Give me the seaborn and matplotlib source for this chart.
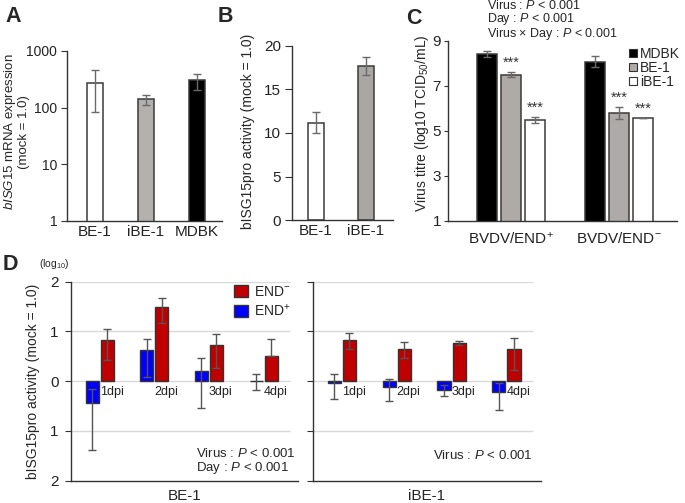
import matplotlib
matplotlib.use("Agg")
import numpy as np
import pandas as pd
import matplotlib.pyplot as plt
import seaborn as sns
from matplotlib.lines import Line2D
from matplotlib.patches import Patch

# ---- data ----
# A: bISG15 mRNA expression (mock = 1.0), mean and SD
a_cells = ["BE-1", "iBE-1", "MDBK"]
a_mean = [273, 140, 302]
a_sd = [190, 30, 97]

# B: bISG15pro activity
b_cells = ["BE-1", "iBE-1"]
b_mean = [11.2, 17.7]
b_sd = [1.2, 1.0]

# C: virus titre (log10 TCID50/mL)
c_virus = ["BVDV/END$^{+}$", "BVDV/END$^{-}$"]
c_cells = ["MDBK", "BE-1", "iBE-1"]
c_mdbk = [8.40, 8.07]
c_be1 = [7.49, 5.80]
c_ibe1 = [5.47, 5.56]
c_mdbk_sd = [0.14, 0.25]
c_be1_sd = [0.11, 0.26]
c_ibe1_sd = [0.13, 0.0]
c_stars = {"MDBK": ["", ""], "BE-1": ["***", "***"], "iBE-1": ["***", "***"]}

# D: bISG15pro activity (log10), END+ / END- per day, with error limits
d_days = ["1dpi", "2dpi", "3dpi", "4dpi"]
be1_pos = [-0.43, 0.63, 0.21, 0.01]
be1_pos_hi = [-0.15, 0.84, 0.47, 0.15]
be1_pos_lo = [-1.39, 0.09, -0.54, -0.17]
be1_neg = [0.83, 1.49, 0.73, 0.50]
be1_neg_hi = [1.04, 1.68, 0.95, 0.84]
be1_neg_lo = [0.42, 1.16, 0.26, 0.50]
ibe1_pos = [-0.03, -0.11, -0.17, -0.21]
ibe1_pos_hi = [0.15, 0.05, -0.07, -0.03]
ibe1_pos_lo = [-0.36, -0.40, -0.29, -0.58]
ibe1_neg = [0.83, 0.64, 0.76, 0.64]
ibe1_neg_hi = [0.97, 0.78, 0.81, 0.86]
ibe1_neg_lo = [0.64, 0.47, 0.72, 0.22]

# ---- style ----
sns.set_style("ticks")
plt.rcParams["font.family"] = ["Liberation Sans", "DejaVu Sans"]
plt.rcParams["mathtext.fontset"] = "custom"
plt.rcParams["mathtext.rm"] = "Liberation Sans"
plt.rcParams["mathtext.it"] = "Liberation Sans:italic"
plt.rcParams["mathtext.bf"] = "Liberation Sans:bold"
plt.rcParams["axes.edgecolor"] = "#333333"
plt.rcParams["axes.linewidth"] = 1.0
plt.rcParams["xtick.color"] = "#333333"
plt.rcParams["ytick.color"] = "#333333"
plt.rcParams["xtick.labelcolor"] = "#222222"
plt.rcParams["ytick.labelcolor"] = "#222222"

EDGE = "#3a3a3a"
ERR = "#6a6a6a"
GRAY = "#b3b0ae"
TICK_FS = 11
W, H = 685, 503


def px_axes(fig, left, right, top, bottom):
    return fig.add_axes([left / W, 1 - bottom / H, (right - left) / W, (bottom - top) / H])


def fig_text(fig, x, y, s, **kw):
    fig.text(x / W, 1 - y / H, s, **kw)


fig = plt.figure(figsize=(6.85, 5.03), dpi=100)

# ---------------- A ----------------
axA = px_axes(fig, 67, 222, 51, 221)
dfA = pd.DataFrame({"cell": a_cells, "val": a_mean})
sns.barplot(data=dfA, x="cell", y="val", hue="cell", palette=["white", GRAY, "black"],
            saturation=1, width=0.31, edgecolor=EDGE, linewidth=1.1, legend=False, ax=axA)
axA.errorbar(range(len(a_cells)), a_mean, yerr=a_sd, fmt="none", ecolor=ERR,
             elinewidth=1, capsize=3.2, capthick=1, zorder=5)
axA.set_yscale("log")
axA.set_ylim(1, 1000)
axA.set_yticks([1, 10, 100, 1000])
axA.set_yticklabels(["1", "10", "100", "1000"])
axA.minorticks_off()
axA.set_xlim(-0.55, 2.49)
axA.set_xlabel("")
axA.set_ylabel("")
axA.tick_params(axis="y", labelsize=10, length=4, pad=3)
axA.tick_params(axis="x", labelsize=TICK_FS, length=0, pad=3)
sns.despine(ax=axA)
fig_text(fig, 16, 132, "$\\mathit{bISG15}$ mRNA expression\n(mock = 1.0)", rotation=90,
         ha="center", va="center", fontsize=9.5, linespacing=1.0)

# ---------------- B ----------------
axB = px_axes(fig, 292, 393, 45.7, 220.3)
dfB = pd.DataFrame({"cell": b_cells, "val": b_mean})
sns.barplot(data=dfB, x="cell", y="val", hue="cell", palette=["white", "#a9a6a4"],
            saturation=1, width=0.32, edgecolor=EDGE, linewidth=1.1, legend=False, ax=axB)
axB.errorbar(range(len(b_cells)), b_mean, yerr=b_sd, fmt="none", ecolor=ERR,
             elinewidth=1, capsize=3.2, capthick=1, zorder=5)
axB.set_ylim(0, 20)
axB.set_yticks([0, 5, 10, 15, 20])
axB.set_xlim(-0.48, 1.54)
axB.set_xlabel("")
axB.set_ylabel("")
axB.tick_params(axis="y", labelsize=TICK_FS, length=5, pad=3)
axB.tick_params(axis="x", labelsize=TICK_FS, length=0, pad=3)
sns.despine(ax=axB)
fig_text(fig, 248, 131, "bISG15pro activity (mock = 1.0)", rotation=90,
         ha="center", va="center", fontsize=10)

# ---------------- C ----------------
axC = px_axes(fig, 448, 677, 40.7, 221)
c_vals = {"MDBK": c_mdbk, "BE-1": c_be1, "iBE-1": c_ibe1}
c_sds = {"MDBK": c_mdbk_sd, "BE-1": c_be1_sd, "iBE-1": c_ibe1_sd}
c_cols = {"MDBK": "black", "BE-1": "#aeaaa8", "iBE-1": "white"}
dfC = pd.DataFrame([{"virus": v, "cell": c, "val": c_vals[c][i]}
                    for c in c_cells for i, v in enumerate(c_virus)])
sns.barplot(data=dfC, x="virus", y="val", hue="cell", hue_order=c_cells, order=c_virus,
            palette=c_cols, saturation=1, width=0.667, gap=0.167, edgecolor=EDGE,
            linewidth=1.1, legend=False, ax=axC)
for cont, cell in zip(axC.containers, c_cells):
    for i, bar in enumerate(cont):
        xc = bar.get_x() + bar.get_width() / 2
        v = c_vals[cell][i]
        sd = c_sds[cell][i]
        axC.errorbar(xc, v, yerr=sd, fmt="none", ecolor=ERR, elinewidth=1,
                     capsize=3.2, capthick=1, zorder=5)
        if c_stars[cell][i]:
            axC.text(xc, v + sd + 0.42, c_stars[cell][i], ha="center", va="center",
                     fontsize=10.5, color="#333333")
axC.set_ylim(1, 9)
axC.set_yticks([1, 3, 5, 7, 9])
axC.set_xlim(-0.583, 1.537)
axC.set_xlabel("")
axC.set_ylabel("")
axC.tick_params(axis="y", labelsize=TICK_FS, length=3, pad=2)
axC.tick_params(axis="x", labelsize=TICK_FS, length=0, pad=7)
sns.despine(ax=axC)
handlesC = [Line2D([], [], marker="s", linestyle="none", markersize=6,
                   markerfacecolor=c_cols[c], markeredgecolor="#333333",
                   markeredgewidth=0.8, label=c) for c in c_cells]
axC.legend(handles=handlesC, loc="upper left", bbox_to_anchor=(0.79, 0.965),
           frameon=False, fontsize=10, handlelength=0.6, handletextpad=0.2,
           labelspacing=0.0, borderpad=0, borderaxespad=0)
fig_text(fig, 422, 123, "Virus titre (log10 TCID$_{50}$/mL)", rotation=90,
         ha="center", va="center", fontsize=10)
fig_text(fig, 487, -1, "Virus : $\\mathit{P}$ < 0.001\nDay : $\\mathit{P}$ < 0.001\n"
         "Virus × Day : $\\mathit{P}$ < 0.001", ha="left", va="top", fontsize=9,
         linespacing=0.92)

# ---------------- D ----------------
d_sets = [
    ("BE-1", (71, 298), be1_pos, be1_pos_hi, be1_pos_lo, be1_neg, be1_neg_hi, be1_neg_lo),
    ("iBE-1", (313, 541), ibe1_pos, ibe1_pos_hi, ibe1_pos_lo, ibe1_neg, ibe1_neg_hi, ibe1_neg_lo),
]
d_cols = {"END+": "#0000ff", "END-": "#c00000"}
for k, (name, (l, r), pv, phi, plo, nv, nhi, nlo) in enumerate(d_sets):
    ax = px_axes(fig, l, r, 281.7, 480.7)
    for yv in [2, 1, 0, -1]:
        ax.hlines(yv, -0.53, 3.49, color="#d9d9d9", linewidth=1, zorder=0)
    dfD = pd.DataFrame({"day": d_days * 2, "virus": ["END+"] * 4 + ["END-"] * 4,
                        "val": pv + nv})
    sns.barplot(data=dfD, x="day", y="val", hue="virus", hue_order=["END+", "END-"],
                palette=d_cols, saturation=1, width=0.55, gap=0.13, edgecolor="#333333",
                linewidth=1, legend=False, ax=ax, zorder=2)
    lims = {"END+": (pv, phi, plo), "END-": (nv, nhi, nlo)}
    for cont, vir in zip(ax.containers, ["END+", "END-"]):
        vals, his, los = lims[vir]
        for i, bar in enumerate(cont):
            xc = bar.get_x() + bar.get_width() / 2
            ax.errorbar(xc, vals[i], yerr=[[vals[i] - los[i]], [his[i] - vals[i]]],
                        fmt="none", ecolor="#555555", elinewidth=1, capsize=3.2,
                        capthick=1, zorder=5)
    for i, bar in enumerate(ax.containers[1]):
        ax.text(bar.get_x() - 0.02, -0.21, d_days[i], ha="left", va="center",
                fontsize=9, color="#222222")
    ax.set_ylim(-2, 2)
    ax.set_xlim(-0.525, 3.63)
    ax.set_yticks([-2, -1, 0, 1, 2])
    ax.set_xticks([])
    ax.set_ylabel("")
    ax.set_xlabel(name, fontsize=TICK_FS, labelpad=6)
    ax.tick_params(axis="y", labelsize=TICK_FS, length=4, pad=5)
    sns.despine(ax=ax)
    if k == 0:
        ax.set_yticklabels(["2", "1", "0", "1", "2"])
        ax.legend(handles=[Patch(facecolor=d_cols["END-"], edgecolor="#333333", label="END$^{-}$"),
                           Patch(facecolor=d_cols["END+"], edgecolor="#333333", label="END$^{+}$")],
                  loc="upper left", bbox_to_anchor=(0.72, 0.985), frameon=False,
                  fontsize=10, handlelength=1.0, handleheight=1.0, handletextpad=0.4,
                  labelspacing=0.3, borderpad=0, borderaxespad=0)
        ax.text(0.99, 0.094, "Virus : $\\mathit{P}$ < 0.001\nDay : $\\mathit{P}$ < 0.001",
                transform=ax.transAxes, ha="right", va="center", multialignment="left",
                fontsize=9.5, linespacing=1.0)
    else:
        ax.set_yticklabels([])
        ax.text(0.965, 0.126, "Virus : $\\mathit{P}$ < 0.001", transform=ax.transAxes,
                ha="right", va="center", fontsize=9.5)

fig_text(fig, 33, 381, "bISG15pro activity (mock = 1.0)", rotation=90,
         ha="center", va="center", fontsize=10)
fig_text(fig, 54, 264, "(log$_{10}$)", ha="center", va="center", fontsize=7.5)

# panel letters
for lab, x, y in [("A", 5, 16), ("B", 218, 16), ("C", 406, 18), ("D", 3, 265)]:
    fig_text(fig, x, y, lab, ha="left", va="center", fontsize=15.5, fontweight="bold")

fig.savefig("out.png", dpi=100)
